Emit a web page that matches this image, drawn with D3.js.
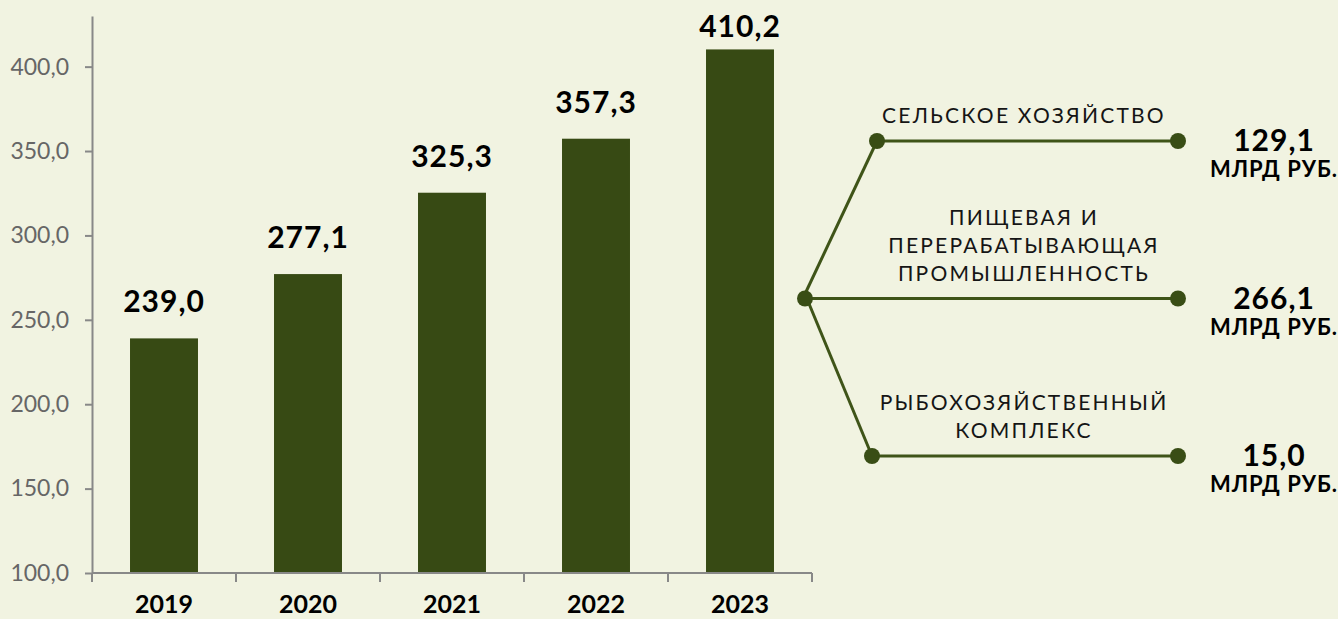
<!DOCTYPE html>
<html>
<head>
<meta charset="utf-8">
<script src="https://cdn.jsdelivr.net/npm/d3@7"></script>
<style>
  html, body { margin: 0; padding: 0; background: #f1f3e1; }
  svg { display: block; }
</style>
</head>
<body>
<div id="chart"></div>
<script>
// bar part
const years = ["2019", "2020", "2021", "2022", "2023"];
const totals = [239.0, 277.1, 325.3, 357.3, 410.2];
const yTicks = [100, 150, 200, 250, 300, 350, 400];

// right part: split of the last year
const branches = [
  ["СЕЛЬСКОЕ ХОЗЯЙСТВО"],
  ["ПИЩЕВАЯ И", "ПЕРЕРАБАТЫВАЮЩАЯ", "ПРОМЫШЛЕННОСТЬ"],
  ["РЫБОХОЗЯЙСТВЕННЫЙ", "КОМПЛЕКС"]
];
const branchValues = [129.1, 266.1, 15.0];
const unit = "МЛРД РУБ.";

const width = 1338;
const height = 619;
const barColor = "#374a14";
const lineColor = "#3f5418";
const axisColor = "#888888";

const fmt = v => d3.format(".1f")(v).replace(".", ",");

const svg = d3.select("#chart")
  .append("svg")
  .attr("width", width)
  .attr("height", height);

svg.append("rect")
  .attr("width", width)
  .attr("height", height)
  .attr("fill", "#f1f3e1");

const x = d3.scaleBand()
  .domain(years)
  .range([92, 812])
  .paddingInner(0.528)
  .paddingOuter(0.264);

const y = d3.scaleLinear()
  .domain([100, 430])
  .range([573, 16]);

// y axis
const yAxis = svg.append("g")
  .attr("transform", "translate(92,0)")
  .call(d3.axisLeft(y).tickValues(yTicks).tickSize(7).tickSizeOuter(0).tickPadding(16).tickFormat(fmt));

yAxis.select(".domain").attr("stroke", axisColor).attr("stroke-width", 2);
yAxis.selectAll(".tick line").attr("stroke", axisColor).attr("stroke-width", 2);
yAxis.selectAll(".tick text")
  .attr("fill", "#666666")
  .style("font-family", "Lato, 'Noto Sans', sans-serif")
  .style("font-size", "23px");

// bars
svg.selectAll(".bar")
  .data(years)
  .enter()
  .append("rect")
  .attr("class", "bar")
  .attr("x", d => x(d))
  .attr("y", (d, i) => y(totals[i]))
  .attr("width", x.bandwidth())
  .attr("height", (d, i) => y(100) - y(totals[i]))
  .attr("fill", barColor);

// x axis line and separators
const step = x.step();
const gap = step - x.bandwidth();
const bounds = years.map(d => x(d) - gap / 2).concat([x(years[years.length - 1]) + x.bandwidth() + gap / 2]);

svg.append("line")
  .attr("x1", x.range()[0])
  .attr("x2", x.range()[1])
  .attr("y1", y(100))
  .attr("y2", y(100))
  .attr("stroke", axisColor)
  .attr("stroke-width", 2);

svg.selectAll(".xtick")
  .data(bounds)
  .enter()
  .append("line")
  .attr("x1", d => d)
  .attr("x2", d => d)
  .attr("y1", y(100))
  .attr("y2", y(100) + 9)
  .attr("stroke", axisColor)
  .attr("stroke-width", 2);

svg.selectAll(".year")
  .data(years)
  .enter()
  .append("text")
  .attr("x", d => x(d) + x.bandwidth() / 2)
  .attr("y", 613)
  .attr("text-anchor", "middle")
  .style("font-family", "Lato, sans-serif")
  .style("font-weight", "bold")
  .style("font-size", "25px")
  .attr("fill", "#000")
  .text(d => d);

// value labels above bars
svg.selectAll(".val")
  .data(years)
  .enter()
  .append("text")
  .attr("x", d => x(d) + x.bandwidth() / 2)
  .attr("y", (d, i) => Math.max(y(totals[i]) - 26, 37))
  .attr("text-anchor", "middle")
  .style("font-family", "Lato, sans-serif")
  .style("font-weight", "bold")
  .style("font-size", "30px")
  .style("letter-spacing", "1px")
  .attr("fill", "#000")
  .text((d, i) => fmt(totals[i]));

// branch diagram
const hub = { x: 805, y: 294 };
const rowY = d3.scalePoint().domain(d3.range(branches.length)).range([141, 456]);
const leftX = [877, hub.x, 872];
const rightX = 1178;

const rows = branches.map((lines, i) => ({
  lines: lines,
  value: branchValues[i],
  y: rowY(i),
  left: leftX[i]
}));

svg.selectAll(".spoke")
  .data(rows)
  .enter()
  .append("line")
  .attr("x1", hub.x)
  .attr("y1", hub.y)
  .attr("x2", d => d.left)
  .attr("y2", d => d.y)
  .attr("stroke", lineColor)
  .attr("stroke-width", 3);

svg.selectAll(".branch")
  .data(rows)
  .enter()
  .append("line")
  .attr("x1", d => d.left)
  .attr("x2", rightX)
  .attr("y1", d => d.y)
  .attr("y2", d => d.y)
  .attr("stroke", lineColor)
  .attr("stroke-width", 3);

rows.forEach(r => {
  [r.left, rightX].forEach(cx => {
    svg.append("circle")
      .attr("cx", cx)
      .attr("cy", r.y)
      .attr("r", 8)
      .attr("fill", "#394d15");
  });

  const t = svg.append("text")
    .attr("text-anchor", "middle")
    .style("font-family", "Lato, sans-serif")
    .style("font-weight", "400")
    .style("font-size", "21px")
    .style("letter-spacing", "2.2px")
    .attr("fill", "#151515");

  const n = r.lines.length;
  r.lines.forEach((line, k) => {
    t.append("tspan")
      .attr("x", 1024)
      .attr("y", r.y - 18 - (n - 1 - k) * 28)
      .text(line);
  });

  svg.append("text")
    .attr("x", 1274)
    .attr("y", r.y + 10)
    .attr("text-anchor", "middle")
    .style("font-family", "Lato, sans-serif")
    .style("font-weight", "bold")
    .style("font-size", "30px")
    .style("letter-spacing", "1px")
    .attr("fill", "#000")
    .text(fmt(r.value));

  svg.append("text")
    .attr("x", 1274)
    .attr("y", r.y + 36)
    .attr("text-anchor", "middle")
    .style("font-family", "Lato, sans-serif")
    .style("font-weight", "bold")
    .style("font-size", "22px")
    .style("letter-spacing", "1px")
    .attr("fill", "#000")
    .text(unit);
});
</script>
</body>
</html>
